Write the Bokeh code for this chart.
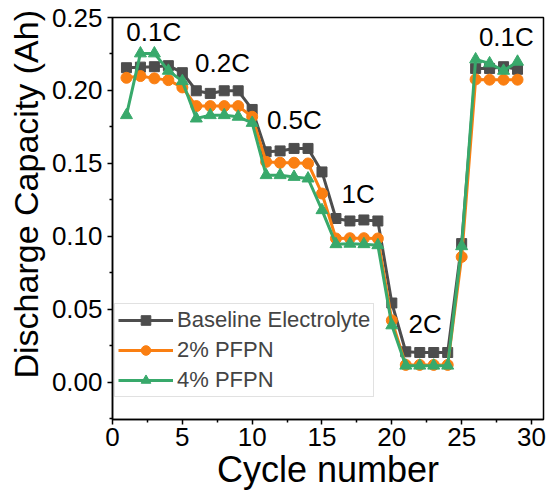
from bokeh.plotting import figure
from bokeh.models import (Label, Legend, LegendItem, Range1d, FixedTicker,
                          PrintfTickFormatter, ColumnDataSource, Title)
from bokeh.embed import file_html
from bokeh.resources import INLINE

# ---- data ----
cycles = list(range(1, 30))
baseline = [0.2156, 0.2160, 0.2163, 0.2170, 0.2122, 0.1998, 0.1980, 0.1998, 0.1998, 0.1870,
            0.1580, 0.1586, 0.1603, 0.1603, 0.1442, 0.1123, 0.1106, 0.1113, 0.1106, 0.0544,
            0.0210, 0.0205, 0.0205, 0.0205, 0.0951, 0.2151, 0.2151, 0.2163, 0.2145]
pfpn2 = [0.2087, 0.2099, 0.2083, 0.2071, 0.2021, 0.1893, 0.1893, 0.1893, 0.1893, 0.1820,
         0.1511, 0.1505, 0.1505, 0.1500, 0.1294, 0.0986, 0.0988, 0.0988, 0.0986, 0.0425,
         0.0120, 0.0120, 0.0120, 0.0120, 0.0860, 0.2076, 0.2074, 0.2074, 0.2074]
pfpn4 = [0.1831, 0.2254, 0.2254, 0.2135, 0.2064, 0.1808, 0.1831, 0.1831, 0.1820, 0.1778,
         0.1420, 0.1420, 0.1408, 0.1397, 0.1180, 0.0947, 0.0950, 0.0947, 0.0940, 0.0391,
         0.0115, 0.0115, 0.0115, 0.0115, 0.0933, 0.2213, 0.2186, 0.2135, 0.2197]
series_names = ["Baseline Electrolyte", "2% PFPN", "4% PFPN"]
x_ticks = [0, 5, 10, 15, 20, 25, 30]
y_ticks = [0.0, 0.05, 0.10, 0.15, 0.20, 0.25]
rate_labels = ["0.1C", "0.2C", "0.5C", "1C", "2C", "0.1C"]
rate_label_x = [2.95, 7.88, 13.02, 17.59, 22.38, 28.2]
rate_label_y = [0.2401, 0.2188, 0.1797, 0.1294, 0.0403, 0.2363]

FONT = "Liberation Sans"

p = figure(width=550, height=497, output_backend="svg", toolbar_location=None,
           x_range=Range1d(0, 30.86), y_range=Range1d(-0.0254, 0.25),
           min_border_left=111, min_border_right=7, min_border_top=17,
           min_border_bottom=78)
p.xgrid.visible = False
p.ygrid.visible = False
p.outline_line_color = "black"
p.outline_line_width = 1.5
p.background_fill_color = "white"
p.border_fill_color = "white"

for ax in (p.xaxis[0], p.yaxis[0]):
    ax.axis_line_width = 1.5
    ax.axis_line_color = "black"
    ax.major_tick_line_width = 1.5
    ax.minor_tick_line_width = 1.5
    ax.major_tick_out = 5
    ax.major_tick_in = 0
    ax.minor_tick_out = 3
    ax.minor_tick_in = 0
    ax.major_label_text_font = FONT
    ax.major_label_text_font_size = "26px"
    ax.major_label_text_color = "black"

p.xaxis.ticker = FixedTicker(ticks=x_ticks, minor_ticks=[t + 2.5 for t in x_ticks])
p.yaxis.ticker = FixedTicker(ticks=y_ticks, minor_ticks=[t + 0.025 for t in [-0.05] + y_ticks])
p.yaxis.formatter = PrintfTickFormatter(format="%.2f")
p.xaxis.major_label_standoff = 3
p.yaxis.major_label_standoff = 5

p.xaxis.axis_label = "Cycle number"
p.xaxis.axis_label_text_font = FONT
p.xaxis.axis_label_text_font_size = "36px"
p.xaxis.axis_label_text_font_style = "normal"
p.xaxis.axis_label_text_color = "black"
p.xaxis.axis_label_standoff = 0

colors = ["#4d4d4d", "#fa7f12", "#38a96b"]
markers = ["square", "circle", "triangle"]
sizes = [10, 11, 12]
ys = [baseline, pfpn2, pfpn4]

items = []
for name, yv, c, m, s in zip(series_names, ys, colors, markers, sizes):
    src = ColumnDataSource(dict(x=cycles, y=yv))
    r1 = p.line("x", "y", source=src, line_color=c, line_width=3)
    r2 = p.scatter("x", "y", source=src, marker=m, size=s, fill_color=c, line_color=c)
    items.append(LegendItem(label=name, renderers=[r1, r2]))

legend = Legend(items=items, location=(2, 22), orientation="vertical",
                label_text_font=FONT, label_text_font_size="22px",
                glyph_width=55, glyph_height=24, label_height=24, label_standoff=4,
                spacing=4, padding=3, margin=0,
                border_line_color="#c4c4c4", border_line_width=1.2,
                background_fill_color="white", background_fill_alpha=1.0)
p.add_layout(legend, "center")

for t, lx, ly in zip(rate_labels, rate_label_x, rate_label_y):
    p.add_layout(Label(x=lx, y=ly, text=t, text_align="center", text_baseline="middle",
                       text_font=FONT, text_font_size="26px", text_color="black"))

ytitle = Title(text="Discharge Capacity (Ah)", align="left", offset=41,
               text_font=FONT, text_font_size="34px", text_font_style="normal",
               text_color="black", standoff=8)
p.add_layout(ytitle, "left")

open("out.html", "w").write(file_html(p, INLINE))
